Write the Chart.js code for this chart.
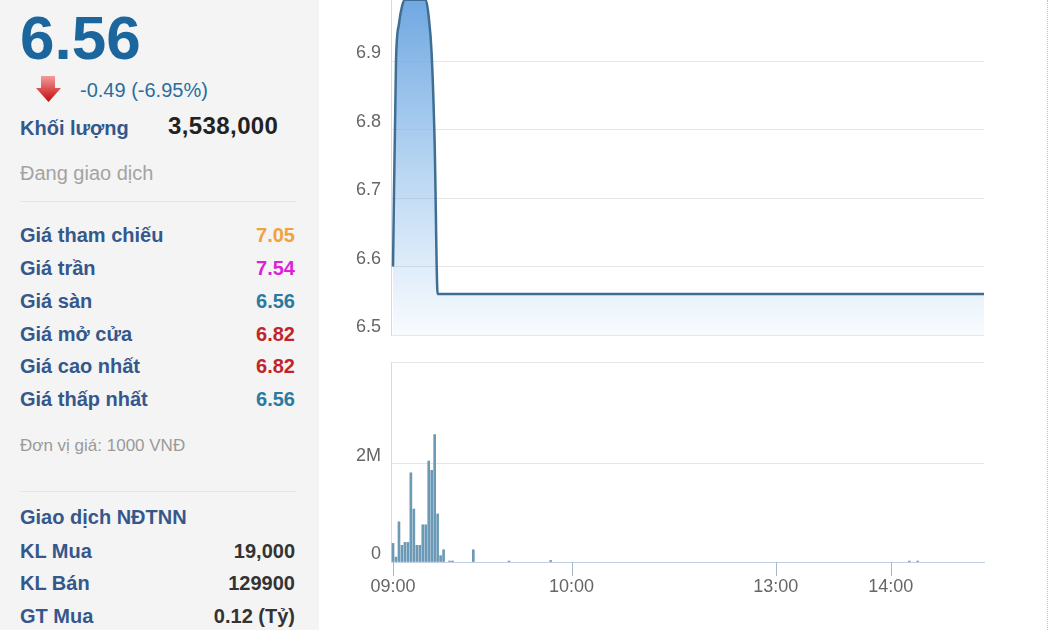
<!DOCTYPE html>
<html lang="vi">
<head>
<meta charset="utf-8">
<title>Giá và khối lượng trong phiên</title>
<script src="https://cdn.jsdelivr.net/npm/chart.js@4.4.1/dist/chart.umd.min.js"></script>
<style>
    html, body { margin: 0; padding: 0; }
    body {
        position: relative;
        width: 1050px;
        height: 630px;
        overflow: hidden;
        background: #fff;
        font-family: "Liberation Sans", Arial, sans-serif;
    }
    .side { position: absolute; left: 0; top: 0; width: 319px; height: 630px; background: #f4f4f4; }
    .t { position: absolute; white-space: nowrap; line-height: 1; font-size: 20px; }
    .lbl { left: 20px; font-weight: bold; color: #34588c; }
    .val { right: 24px; font-weight: bold; text-align: right; }
    .sep { position: absolute; left: 20px; width: 276px; height: 1px; background: #e6e6e6; }
    .edge { position: absolute; left: 1047px; top: 0; height: 630px; border-left: 1px dotted #c4c4c4; }
    #price { position: absolute; left: 320px; top: -7px; }
    #volume { position: absolute; left: 320px; top: 340px; }
</style>
</head>
<body>

<div class="side">
    <div class="t" style="left:20px; top:7px; font-size:62px; font-weight:bold; color:#1b669c;">6.56</div>
    <svg style="position:absolute; left:34px; top:74px;" width="30" height="30" viewBox="0 0 30 30">
        <defs>
            <linearGradient id="down" x1="0" y1="0" x2="0" y2="1">
                <stop offset="0" stop-color="#f29c9c"/>
                <stop offset="1" stop-color="#c40808"/>
            </linearGradient>
        </defs>
        <polygon points="7,2 21,2 21,14 27,14 14.5,28 2,14 7,14" fill="url(#down)"/>
    </svg>
    <div class="t" style="left:80px; top:80px; color:#2a6e9e;">-0.49 (-6.95%)</div>

    <div class="t lbl" style="top:118px;">Khối lượng</div>
    <div class="t" style="left:168px; top:114px; font-size:24px; letter-spacing:0.4px; font-weight:bold; color:#222;">3,538,000</div>
    <div class="t" style="left:20px; top:163px; color:#a3a3a3;">Đang giao dịch</div>
    <div class="sep" style="top:201px;"></div>

    <div class="t lbl" style="top:225px;">Giá tham chiếu</div>
    <div class="t val" style="top:225px; color:#f0a23c;">7.05</div>
    <div class="t lbl" style="top:258px;">Giá trần</div>
    <div class="t val" style="top:258px; color:#dc22d8;">7.54</div>
    <div class="t lbl" style="top:291px;">Giá sàn</div>
    <div class="t val" style="top:291px; color:#2a7ba3;">6.56</div>
    <div class="t lbl" style="top:324px;">Giá mở cửa</div>
    <div class="t val" style="top:324px; color:#bf262b;">6.82</div>
    <div class="t lbl" style="top:356px;">Giá cao nhất</div>
    <div class="t val" style="top:356px; color:#bf262b;">6.82</div>
    <div class="t lbl" style="top:389px;">Giá thấp nhất</div>
    <div class="t val" style="top:389px; color:#2a7ba3;">6.56</div>

    <div class="t" style="left:20px; top:437px; font-size:17px; color:#9a9a9a;">Đơn vị giá: 1000 VNĐ</div>
    <div class="sep" style="top:491px;"></div>

    <div class="t lbl" style="top:507px;">Giao dịch NĐTNN</div>
    <div class="t lbl" style="top:541px;">KL Mua</div>
    <div class="t val" style="top:541px; color:#333;">19,000</div>
    <div class="t lbl" style="top:573px;">KL Bán</div>
    <div class="t val" style="top:573px; color:#333;">129900</div>
    <div class="t lbl" style="top:606px;">GT Mua</div>
    <div class="t val" style="top:606px; color:#333;">0.12 (Tỷ)</div>
</div>

<canvas id="price" width="700" height="347"></canvas>
<canvas id="volume" width="700" height="290"></canvas>
<div class="edge"></div>

<script>
/* Intraday price + volume. The time axis is an "ordinal" session axis like the
   original: the busy morning gets more room than the afternoon, and the lunch
   break is squeezed out, so a small piecewise scale maps clock time to x. */
(function () {
    'use strict';

    // ---- data --------------------------------------------------------------
    var priceTimes = ['09:00', '09:01', '09:02', '09:03', '09:04', '09:11', '09:12', '09:13', '09:14', '09:15', '09:27', '09:53', '14:13', '14:45'];
    var priceValues = [6.60, 6.90, 6.955, 6.98, 6.99, 6.99, 6.965, 6.91, 6.78, 6.56, 6.56, 6.56, 6.56, 6.56];

    var volumeTimes = ['09:00', '09:01', '09:02', '09:03', '09:04', '09:05', '09:06', '09:07', '09:08', '09:09',
                       '09:10', '09:11', '09:12', '09:13', '09:14', '09:15', '09:16', '09:17', '09:19', '09:20',
                       '09:27', '09:39', '09:53', '14:09', '14:13'];
    var volumeValues = [380000, 100000, 820000, 340000, 400000, 400000, 1820000, 1080000, 340000, 340000,
                        760000, 760000, 2060000, 1870000, 2600000, 980000, 130000, 250000, 20000, 20000,
                        250000, 20000, 30000, 20000, 20000];

    var timeTicks = ['09:00', '10:00', '13:00', '14:00'];
    var priceTicks = [6.5, 6.6, 6.7, 6.8, 6.9, 7.0];
    var volumeTicks = [0, 2000000];
    var volumeMax = 4080000;

    var toMin = function (hhmm) {
        var p = hhmm.split(':');
        return (+p[0]) * 60 + (+p[1]) - 540;
    };
    var fmtMin = function (v) {
        var m = v + 540;
        var h = Math.floor(m / 60), mm = m % 60;
        return (h < 10 ? '0' : '') + h + ':' + (mm < 10 ? '0' : '') + mm;
    };

    // ---- session axis -------------------------------------------------------
    var breaks = ['09:00', '10:00', '13:00', '14:00', '14:45'].map(toMin);
    var stops = [0.0034, 0.3044, 0.6487, 0.8427, 1];

    var sessionFraction = function (v) {
        if (v <= breaks[0]) return stops[0];
        for (var i = 1; i < breaks.length; i++) {
            if (v <= breaks[i]) {
                return stops[i - 1] + (v - breaks[i - 1]) / (breaks[i] - breaks[i - 1]) * (stops[i] - stops[i - 1]);
            }
        }
        return stops[stops.length - 1];
    };

    class SessionScale extends Chart.LinearScale {
        getPixelForValue(value) {
            if (value === null || isNaN(value)) return NaN;
            return this.getPixelForDecimal(sessionFraction(value));
        }
        getValueForPixel(pixel) {
            var d = this.getDecimalForPixel(pixel);
            for (var i = 1; i < stops.length; i++) {
                if (d <= stops[i]) {
                    return breaks[i - 1] + (d - stops[i - 1]) / (stops[i] - stops[i - 1]) * (breaks[i] - breaks[i - 1]);
                }
            }
            return breaks[breaks.length - 1];
        }
    }
    SessionScale.id = 'session';
    SessionScale.defaults = Chart.LinearScale.defaults;
    Chart.register(SessionScale);

    var C = {
        line: '#406e93',
        bar: '#6c9ab6',
        grid: '#e6e6e6',
        axis: '#c4cfe3',
        tick: '#a9b4c6',
        label: '#666666'
    };

    Chart.defaults.font.family = '"Liberation Sans", Arial, sans-serif';
    Chart.defaults.font.size = 18;
    Chart.defaults.color = C.label;
    Chart.defaults.animation = false;
    Chart.defaults.plugins.legend.display = false;
    Chart.defaults.plugins.tooltip.enabled = false;

    var xMin = toMin('09:00'), xMax = toMin('14:45');

    var setTicks = function (list) {
        return function (scale) {
            scale.ticks = list.map(function (v) { return { value: v }; });
        };
    };
    // fixed axis box, no extra room for the end labels
    var fixWidth = function (w) {
        return function (s) {
            s.width = w;
            s.paddingTop = 0;
            s.paddingBottom = 0;
        };
    };
    var fixHeight = function (h) {
        return function (s) {
            s.height = h;
            s.paddingLeft = 0;
            s.paddingRight = 0;
        };
    };

    // short marks under the time axis, one per labelled tick
    var timeMarks = {
        id: 'timeMarks',
        afterDraw: function (chart) {
            var x = chart.scales.x;
            var ctx = chart.ctx;
            var y0 = chart.chartArea.bottom;
            ctx.save();
            ctx.fillStyle = C.tick;
            x.ticks.forEach(function (t, i) {
                var px = Math.round(x.getPixelForTick(i));
                ctx.fillRect(px, y0, 1, 14);
            });
            ctx.restore();
        }
    };

    // ---- price chart ----------------------------------------------------------
    new Chart(document.getElementById('price'), {
        type: 'line',
        data: {
            datasets: [{
                data: priceTimes.map(function (t, i) { return { x: toMin(t), y: priceValues[i] }; }),
                borderColor: C.line,
                borderWidth: 2.5,
                pointRadius: 0,
                cubicInterpolationMode: 'monotone',
                fill: 'start',
                backgroundColor: function (ctx) {
                    var area = ctx.chart.chartArea;
                    if (!area) return 'rgba(124,181,236,0.3)';
                    var g = ctx.chart.ctx.createLinearGradient(0, area.top, 0, area.bottom);
                    g.addColorStop(0, 'rgba(109,166,224,1)');
                    g.addColorStop(1, 'rgba(124,181,236,0.05)');
                    return g;
                }
            }]
        },
        options: {
            responsive: false,
            layout: { padding: { left: 0, right: 36, top: 0, bottom: 5 } },
            scales: {
                x: { type: 'session', display: false, min: xMin, max: xMax, offset: false },
                y: {
                    min: 6.5,
                    max: 7.0,
                    afterBuildTicks: setTicks(priceTicks),
                    afterFit: fixWidth(71),
                    grid: { color: C.grid, drawTicks: false },
                    border: { color: '#dadada' },
                    ticks: {
                        padding: 10,
                        labelOffset: -8,
                        callback: function (v) { return v.toFixed(1); }
                    }
                }
            }
        }
    });

    // ---- volume chart ---------------------------------------------------------
    new Chart(document.getElementById('volume'), {
        type: 'bar',
        data: {
            datasets: [{
                data: volumeTimes.map(function (t, i) { return { x: toMin(t), y: volumeValues[i] }; }),
                backgroundColor: C.bar,
                barThickness: 2
            }]
        },
        options: {
            responsive: false,
            layout: { padding: { left: 0, right: 36, top: 22, bottom: 0 } },
            scales: {
                x: {
                    type: 'session',
                    min: xMin,
                    max: xMax,
                    offset: false,
                    afterBuildTicks: setTicks(timeTicks.map(toMin)),
                    afterFit: fixHeight(68),
                    grid: { display: false, drawTicks: false },
                    border: { color: C.axis },
                    ticks: {
                        autoSkip: false,
                        maxRotation: 0,
                        padding: 14,
                        callback: function (v) { return fmtMin(v); }
                    }
                },
                y: {
                    min: 0,
                    max: volumeMax,
                    afterBuildTicks: setTicks(volumeTicks.concat([volumeMax])),
                    afterFit: fixWidth(71),
                    grid: {
                        drawTicks: false,
                        color: function (ctx) { return ctx.tick && ctx.tick.value === 0 ? C.axis : C.grid; }
                    },
                    border: { color: '#dadada' },
                    ticks: {
                        padding: 10,
                        labelOffset: -8,
                        callback: function (v) {
                            if (v === volumeMax) return '';
                            return v === 0 ? '0' : (v / 1000000) + 'M';
                        }
                    }
                }
            }
        },
        plugins: [timeMarks]
    });
})();
</script>
</body>
</html>
